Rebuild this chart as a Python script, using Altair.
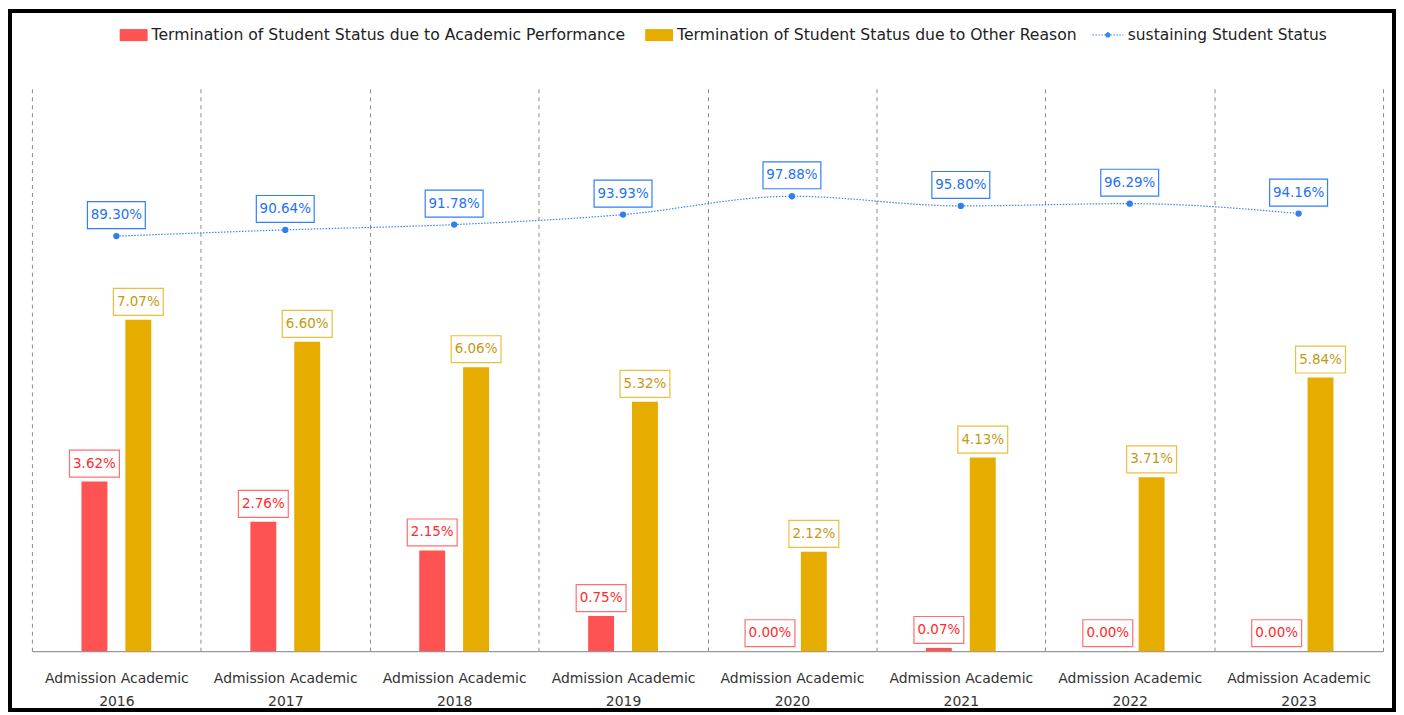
import altair as alt
import pandas as pd

years = ["2016", "2017", "2018", "2019", "2020", "2021", "2022", "2023"]
academic = [3.62, 2.76, 2.15, 0.75, 0.00, 0.07, 0.00, 0.00]
other = [7.07, 6.60, 6.06, 5.32, 2.12, 4.13, 3.71, 5.84]
sustain = [89.30, 90.64, 91.78, 93.93, 97.88, 95.80, 96.29, 94.16]

name_a = "Termination of Student Status due to Academic Performance"
name_o = "Termination of Student Status due to Other Reason"
name_s = "sustaining Student Status"

RED, GOLD, BLUE = "#FF5252", "#E6AC00", "#3A86F0"

df = pd.DataFrame({"year": years, "academic": academic, "other": other, "sustain": sustain})
df["academic_lbl"] = [f"{v:.2f}%" for v in academic]
df["other_lbl"] = [f"{v:.2f}%" for v in other]
df["sustain_lbl"] = [f"{v:.2f}%" for v in sustain]

W, H = 1355, 564
FONT = "DejaVu Sans"

year_list = "[" + ",".join(f"'{y}'" for y in years) + "]"
label_expr = f"indexof({year_list}, datum.value) >= 0 ? ['Admission Academic', datum.value] : ''"

base = alt.Chart(df)
x = alt.X("year:N", title=None, sort=years,
          scale=alt.Scale(paddingInner=0, paddingOuter=0),
          axis=alt.Axis(labelExpr=label_expr, labelAngle=0,
                        labelFont=FONT, labelFontSize=14, labelColor="#333333",
                        labelLineHeight=24, labelPadding=20, ticks=False,
                        domainColor="#999999", domainWidth=1.2,
                        grid=True, gridDash=[4, 4], gridColor="#8a8a8a", gridWidth=1,
                        tickBand="extent"))

ybar_a = alt.Y("academic:Q", scale=alt.Scale(domain=[0, 12]), axis=None)
ybar_o = alt.Y("other:Q", scale=alt.Scale(domain=[0, 12]), axis=None)
yline = alt.Y("sustain:Q", scale=alt.Scale(domain=[0, 121]), axis=None)

color_scale = alt.Scale(domain=[name_a, name_o], range=[RED, GOLD])
color_legend = alt.Legend(title=None, orient="none", legendX=88, legendY=-68, direction="horizontal",
                          symbolType="M-1,-0.43L1,-0.43L1,0.43L-1,0.43Z", symbolSize=784,
                          symbolStrokeWidth=0, labelFont=FONT, labelFontSize=15.7,
                          labelColor="#222222", labelOffset=4, columnPadding=19, labelLimit=0)
stroke_legend = alt.Legend(title=None, orient="none", legendX=1063, legendY=-70,
                           symbolType="M-1,0L1,0M-0.16,0A0.16,0.16,0,1,1,0.16,0A0.16,0.16,0,1,1,-0.16,0Z",
                           symbolSize=961, symbolStrokeWidth=1, symbolDash=[1.5, 1.5],
                           symbolFillColor=BLUE, labelFont=FONT, labelFontSize=15.5,
                           labelColor="#222222", labelOffset=4, labelLimit=0)

BOX_S = "M-1.852,-1L1.852,-1L1.852,1L-1.852,1Z"
BOX_L = "M-2.15,-1L2.15,-1L2.15,1L-2.15,1Z"

bar_a = base.transform_calculate(series=f"'{name_a}'").mark_bar(width=26, xOffset=-22).encode(
    x=x, y=ybar_a, color=alt.Color("series:N", scale=color_scale, legend=color_legend))
bar_o = base.transform_calculate(series=f"'{name_o}'").mark_bar(width=26, xOffset=22).encode(
    x=x, y=ybar_o, color=alt.Color("series:N", scale=color_scale, legend=color_legend))
box_a = base.mark_point(shape=BOX_S, size=729, filled=False, fill="white", stroke="#FF6F6F",
                        strokeWidth=1.2, opacity=1, xOffset=-22, yOffset=-18).encode(x=x, y=ybar_a)
txt_a = base.mark_text(font=FONT, fontSize=13.5, color="#FF2B2B", baseline="middle",
                       xOffset=-22, yOffset=-18).encode(x=x, y=ybar_a, text="academic_lbl:N")
box_o = base.mark_point(shape=BOX_S, size=729, filled=False, fill="white", stroke="#EDBE3A",
                        strokeWidth=1.2, opacity=1, xOffset=22, yOffset=-18).encode(x=x, y=ybar_o)
txt_o = base.mark_text(font=FONT, fontSize=13.5, color="#C39A12", baseline="middle",
                       xOffset=22, yOffset=-18).encode(x=x, y=ybar_o, text="other_lbl:N")

line = base.transform_calculate(sname=f"'{name_s}'").mark_line(
    interpolate="monotone", strokeDash=[1.5, 1.5], strokeWidth=1.2).encode(
    x=x, y=yline,
    stroke=alt.Stroke("sname:N", scale=alt.Scale(domain=[name_s], range=[BLUE]), legend=stroke_legend))
pts = base.mark_circle(size=40, color="#2F7FF0", opacity=1).encode(x=x, y=yline)
box_s = base.mark_point(shape=BOX_L, size=729, filled=False, fill="white", stroke="#2F7FFF",
                        strokeWidth=1.2, opacity=1, yOffset=-21).encode(x=x, y=yline)
txt_s = base.mark_text(font=FONT, fontSize=13.5, color="#1F72F5", baseline="middle",
                       yOffset=-21).encode(x=x, y=yline, text="sustain_lbl:N")

frame = alt.Chart(pd.DataFrame({"f": [0]})).mark_rect(fill="transparent", stroke="black", strokeWidth=4).encode(
    x=alt.value(-22), x2=alt.value(1366), y=alt.value(-78), y2=alt.value(623))

chart = alt.layer(
    bar_a, bar_o, box_a, txt_a, box_o, txt_o, line, pts, box_s, txt_s, frame
).resolve_scale(y="independent").properties(
    width=W, height=H,
    autosize=alt.AutoSizeParams(type="none"),
    padding={"left": 24, "top": 80, "right": 13, "bottom": 63},
    background="white",
).configure_view(strokeWidth=0)

chart.save("out.html", embed_options={"renderer": "svg", "actions": False})
